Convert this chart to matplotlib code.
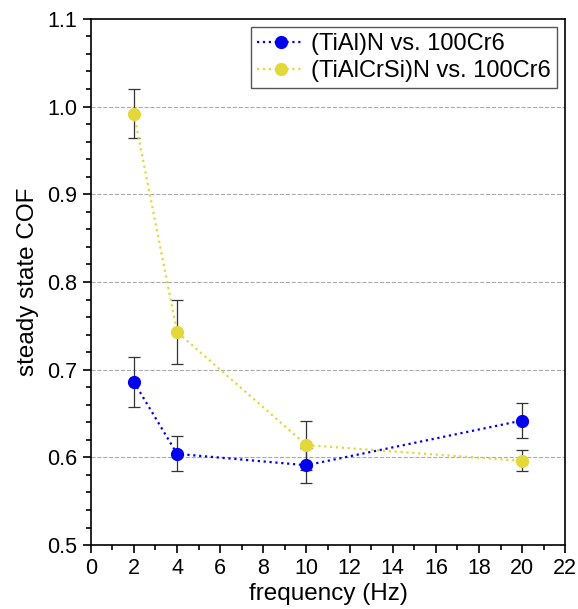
import matplotlib.pyplot as plt
from matplotlib.ticker import MultipleLocator

plt.rcParams['font.family'] = ['Liberation Sans', 'DejaVu Sans']

freq = [2, 4, 10, 20]
cof_tialn = [0.686, 0.604, 0.591, 0.642]
err_tialn = [0.029, 0.020, 0.020, 0.020]
cof_tialcrsin = [0.992, 0.743, 0.614, 0.596]
err_tialcrsin = [0.028, 0.036, 0.028, 0.012]

labels = ['(TiAl)N vs. 100Cr6', '(TiAlCrSi)N vs. 100Cr6']
colors = ['#0000ee', '#e3d83a']

fig = plt.figure(figsize=(5.78, 6.09), dpi=100)
ax = fig.add_axes([0.157, 0.105, 0.821, 0.864])

for y, e, c, lab in [(cof_tialn, err_tialn, colors[0], labels[0]),
                     (cof_tialcrsin, err_tialcrsin, colors[1], labels[1])]:
    ax.errorbar(freq, y, yerr=e, fmt='none', ecolor='#333333', elinewidth=0.9,
                capsize=4, capthick=0.9, zorder=2)
    ax.plot(freq, y, linestyle=':', linewidth=1.6, color=c, marker='o',
            markersize=8.5, label=lab, zorder=3)

ax.set_xlim(0, 22)
ax.set_ylim(0.5, 1.1)
ax.xaxis.set_major_locator(MultipleLocator(2))
ax.xaxis.set_minor_locator(MultipleLocator(1))
ax.yaxis.set_major_locator(MultipleLocator(0.1))
ax.yaxis.set_minor_locator(MultipleLocator(0.02))
ax.yaxis.set_major_formatter(plt.FuncFormatter(lambda v, p: f'{v:.1f}'))
ax.tick_params(which='both', direction='out', top=False, right=False,
               labelsize=15.5, width=1.2)
ax.tick_params(which='major', length=6)
ax.tick_params(which='minor', length=3.5)
for s in ax.spines.values():
    s.set_linewidth(1.2)

for g in [0.6, 0.7, 0.8, 0.9, 1.0]:
    ax.axhline(g, color='#aaaaaa', linestyle='--', linewidth=0.8, zorder=1)

ax.set_xlabel('frequency (Hz)', fontsize=17.5, labelpad=3)
ax.set_ylabel('steady state COF', fontsize=17.5, labelpad=6)

leg = ax.legend(loc='upper right', fontsize=17, fancybox=False, framealpha=1,
                edgecolor='#555555', borderpad=0.25, handlelength=2.0,
                handletextpad=0.3, labelspacing=0.2, borderaxespad=0.35)
leg.get_frame().set_linewidth(1.0)

fig.savefig('out.png', dpi=100)
